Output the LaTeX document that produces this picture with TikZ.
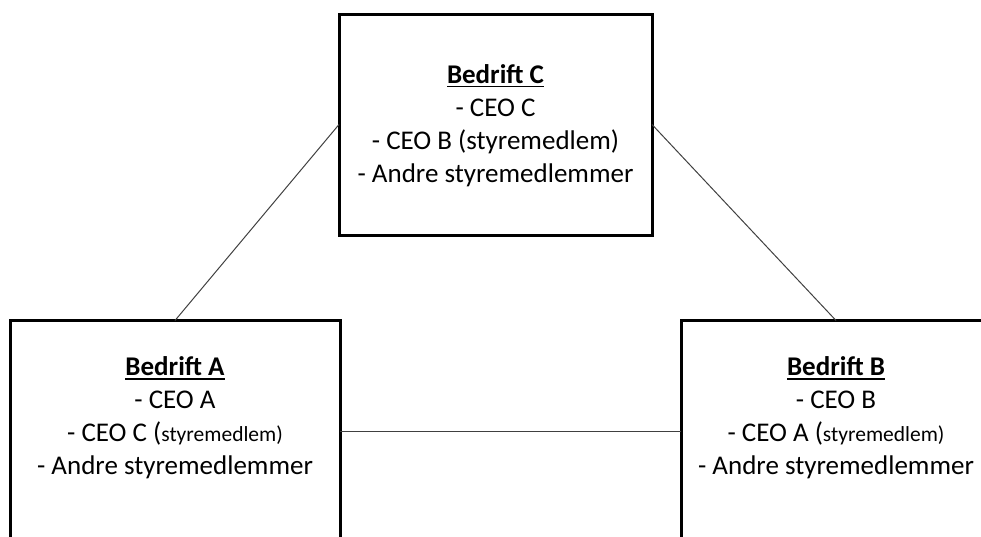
\documentclass[tikz,border=0pt]{standalone}
\usepackage{fontspec}
\setmainfont{Carlito}
\usetikzlibrary{positioning}
\tikzstyle{firm} = [rectangle, draw=black, line width=3pt, outer sep=0pt, minimum height=221pt]
\tikzstyle{members} = [align=center, inner sep=0pt, font=\fontsize{27}{33}\selectfont]
\tikzstyle{link} = [line width=1pt, draw=black!75]
\newsavebox{\namebox}
\newcommand{\firmname}[1]{\sbox{\namebox}{\textbf{#1}}\rlap{\rule[-4pt]{\wd\namebox}{1.6pt}}\usebox{\namebox}}
\newcommand{\board}[1]{{\fontsize{21.5}{33}\selectfont #1}}

\begin{document}
\begin{tikzpicture}
\useasboundingbox (0,0) rectangle (981pt,-536pt);

\node (firmC) [firm, minimum width=313pt] at (495.5pt,-124.5pt) {};
\node (firmA) [firm, minimum width=330pt] at (175pt,-431pt) {};
\node (firmB) [firm, minimum width=310pt] at (836pt,-431pt) {};

\node (textC) [members, below=50pt of firmC.north] {\firmname{Bedrift C}\\- CEO C\\- CEO B (styremedlem)\\- Andre styremedlemmer};
\node (textA) [members, below=36pt of firmA.north] {\firmname{Bedrift A}\\- CEO A\\- CEO C (\board{styremedlem)}\\- Andre styremedlemmer};
\node (textB) [members, below=36pt of firmB.north] {\firmname{Bedrift B}\\- CEO B\\- CEO A (\board{styremedlem)}\\- Andre styremedlemmer};

\draw [link] (firmC.west) -- (firmA.north);
\draw [link] (firmC.east) -- (firmB.north);
\draw [link] (firmA.east) -- (firmB.west);

\end{tikzpicture}
\end{document}
